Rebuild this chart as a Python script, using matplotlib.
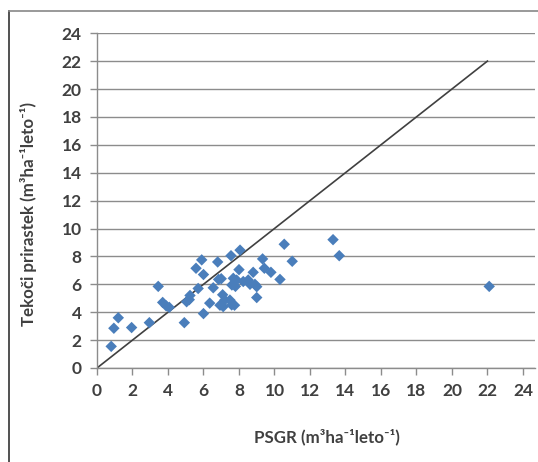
import matplotlib
matplotlib.use("Agg")
import matplotlib.pyplot as plt
from matplotlib.lines import Line2D

plt.rcParams['font.family'] = ['Lato', 'DejaVu Sans']

psgr = [0.8, 0.95, 1.2, 1.95, 2.95, 3.45, 3.7, 3.9, 4.07, 4.92,
        5.05, 5.2, 5.24, 5.7, 5.58, 5.9, 6.0, 6.0, 6.35, 6.55,
        6.8, 6.85, 7.0, 6.93, 7.08, 7.2, 7.11, 7.49, 7.59, 7.75,
        7.55, 7.68, 7.6, 7.8, 8.0, 8.06, 7.87, 8.24, 8.52, 8.62,
        8.8, 8.9, 9.0, 9.0, 9.33, 9.43, 9.8, 10.31, 10.55, 11.0,
        13.3, 13.65, 22.1]
prirastek = [1.55, 2.85, 3.6, 2.9, 3.25, 5.85, 4.7, 4.45, 4.35, 3.25,
             4.75, 4.9, 5.2, 5.7, 7.15, 7.75, 6.7, 3.9, 4.65, 5.75,
             7.6, 6.35, 6.4, 4.5, 5.25, 4.87, 4.4, 4.87, 4.52, 4.5,
             8.05, 6.43, 5.95, 5.85, 7.05, 8.45, 6.3, 6.2, 6.31, 6.0,
             6.86, 6.0, 5.83, 5.05, 7.82, 7.15, 6.86, 6.35, 8.87, 7.65,
             9.2, 8.05, 5.85]
line_x = [0, 22]
line_y = [0, 22]
ticks = list(range(0, 25, 2))

W, H = 538, 462
fig = plt.figure(figsize=(W / 100, H / 100), dpi=100)
ax = fig.add_axes([97 / W, 1 - 368 / H, (535 - 97) / W, (368 - 33.2) / H])

ax.set_xlim(0, 24.68)
ax.set_ylim(0, 24)
ax.set_xticks(ticks)
ax.set_yticks(ticks)

grid_c = '#8c8c8c'
ax.yaxis.grid(True, color=grid_c, linewidth=1.0)
ax.set_axisbelow(True)
for s in ['top', 'right']:
    ax.spines[s].set_visible(False)
for s in ['left', 'bottom']:
    ax.spines[s].set_color(grid_c)
    ax.spines[s].set_linewidth(1.0)

ax.tick_params(axis='both', direction='out', length=5, width=1, color=grid_c,
               labelsize=12.5, labelcolor='#404040')
ax.tick_params(axis='y', pad=6)
ax.tick_params(axis='x', pad=6)
for lab in ax.get_xticklabels() + ax.get_yticklabels():
    lab.set_fontweight('bold')

ax.plot(line_x, line_y, color='#404040', linewidth=1.2, zorder=2)
ax.scatter(psgr, prirastek, marker='D', s=34, color='#4a7ebb',
           edgecolors='none', zorder=3, clip_on=False)

fig.text(327 / W, 1 - 437 / H, 'PSGR (m³ha⁻¹leto⁻¹)', ha='center', va='center',
         fontsize=12.2, fontweight='bold', color='#404040')
fig.text(29 / W, 1 - 214 / H, 'Tekoči prirastek (m³ha⁻¹leto⁻¹)', ha='center',
         va='center', rotation=90, fontsize=12.2, fontweight='bold', color='#404040')

# outer frame
fig.add_artist(Line2D([9 / W, 9 / W], [0, 1 - 10.5 / H], transform=fig.transFigure,
                      color='#333333', linewidth=1.2))
fig.add_artist(Line2D([9 / W, 1], [1 - 10.5 / H, 1 - 10.5 / H], transform=fig.transFigure,
                      color='#888888', linewidth=1.2))

fig.savefig('out.png', dpi=100)
